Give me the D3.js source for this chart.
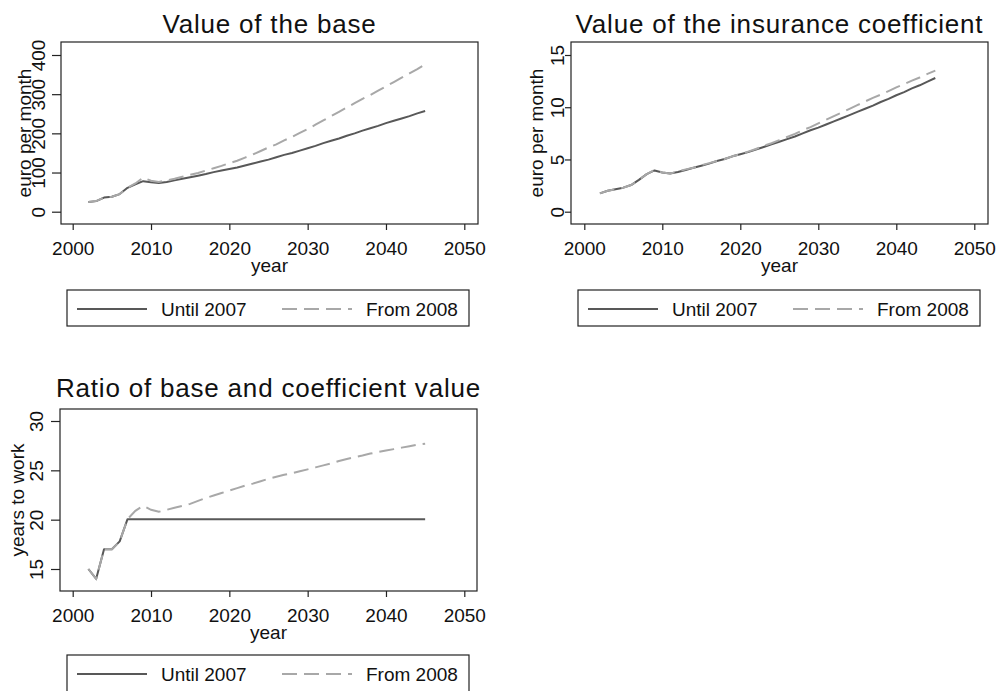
<!DOCTYPE html>
<html>
<head>
<meta charset="utf-8">
<script src="https://cdn.jsdelivr.net/npm/d3@7"></script>
<style>
  html, body { margin: 0; padding: 0; background: #fff; }
  svg { display: block; font-family: "Liberation Sans", Arial, Helvetica, sans-serif; }
</style>
</head>
<body>
<svg id="chart" width="998" height="691"></svg>
<script>
// Projection years
const years = [2002, 2003, 2004, 2005, 2006, 2007, 2008, 2009, 2010, 2011,
  2012, 2013, 2014, 2015, 2016, 2017, 2018, 2019, 2020, 2021,
  2022, 2023, 2024, 2025, 2026, 2027, 2028, 2029, 2030, 2031,
  2032, 2033, 2034, 2035, 2036, 2037, 2038, 2039, 2040, 2041,
  2042, 2043, 2044, 2045];

// Value of the base (euro per month)
const baseUntil2007 = [25, 27, 36, 38, 45, 61, 70, 78, 75, 73,
  76, 80, 84, 88, 92, 96, 101, 105, 109, 113,
  118, 123, 128, 133, 139, 145, 150, 156, 162, 168,
  175, 181, 187, 194, 200, 207, 213, 219, 226, 232,
  238, 244, 251, 257];
const baseFrom2008 = [25, 27, 36, 38, 45, 61, 72, 87, 79, 76,
  80, 84, 89, 94, 99, 105, 111, 117, 124, 130,
  138, 146, 155, 164, 172, 182, 191, 201, 211, 222,
  233, 244, 255, 266, 277, 288, 298, 309, 320, 331,
  342, 353, 364, 376];

// Value of the insurance coefficient (euro per month)
const coefUntil2007 = [1.75, 2.0, 2.15, 2.3, 2.55, 3.05, 3.6, 3.95, 3.75, 3.65,
  3.8, 4.0, 4.2, 4.4, 4.6, 4.85, 5.05, 5.3, 5.5, 5.7,
  5.95, 6.2, 6.45, 6.7, 6.95, 7.2, 7.5, 7.8, 8.05, 8.35,
  8.65, 8.95, 9.25, 9.55, 9.85, 10.15, 10.5, 10.8, 11.15, 11.45,
  11.8, 12.1, 12.45, 12.8];
const coefFrom2008 = [1.75, 2.0, 2.15, 2.3, 2.55, 3.05, 3.6, 4.0, 3.75, 3.65,
  3.85, 4.05, 4.2, 4.45, 4.65, 4.85, 5.05, 5.3, 5.5, 5.75,
  6.0, 6.3, 6.55, 6.85, 7.15, 7.45, 7.8, 8.1, 8.45, 8.8,
  9.15, 9.5, 9.85, 10.2, 10.55, 10.9, 11.2, 11.55, 11.9, 12.2,
  12.55, 12.85, 13.2, 13.5];

// Ratio of base and coefficient (years to work)
const ratioUntil2007 = [15, 14, 17, 17, 17.8, 20.05, 20.05, 20.05, 20.05, 20.05,
  20.05, 20.05, 20.05, 20.05, 20.05, 20.05, 20.05, 20.05, 20.05, 20.05,
  20.05, 20.05, 20.05, 20.05, 20.05, 20.05, 20.05, 20.05, 20.05, 20.05,
  20.05, 20.05, 20.05, 20.05, 20.05, 20.05, 20.05, 20.05, 20.05, 20.05,
  20.05, 20.05, 20.05, 20.05];
const ratioFrom2008 = [15, 14, 17, 17, 17.8, 20.05, 20.9, 21.4, 21.0, 20.8,
  21.0, 21.2, 21.4, 21.6, 21.9, 22.2, 22.45, 22.7, 22.95, 23.2,
  23.45, 23.65, 23.9, 24.15, 24.35, 24.55, 24.7, 24.9, 25.1, 25.3,
  25.5, 25.7, 25.95, 26.15, 26.35, 26.5, 26.7, 26.85, 27.0, 27.15,
  27.3, 27.45, 27.6, 27.7];

// Axis ticks and labels
const yearTicks = [2000, 2010, 2020, 2030, 2040, 2050];
const baseTicks = [0, 100, 200, 300, 400];
const coefTicks = [0, 5, 10, 15];
const ratioTicks = [15, 20, 25, 30];
const seriesNames = ["Until 2007", "From 2008"];

const SOLID = "#585858";
const DASHED = "#a8a8a8";
const INK = "#111";

const svg = d3.select("#chart");

const panels = [
  {
    title: "Value of the base", yTitle: "euro per month",
    until: baseUntil2007, from: baseFrom2008, yTicks: baseTicks,
    box: { l: 61, t: 42, r: 478, b: 224 },
    xRange: [72.7, 464.3], yRange: [211.7, 55],
    titleY: 33, yLabelOff: 16, yTick: 9, yTitleX: 31,
    legend: { x: 67, y: 290, h: 36 }
  },
  {
    title: "Value of the insurance coefficient", yTitle: "euro per month",
    until: coefUntil2007, from: coefFrom2008, yTicks: coefTicks,
    box: { l: 571, t: 42, r: 988, b: 224 },
    xRange: [584.3, 974.3], yRange: [211.7, 55],
    titleY: 33, yLabelOff: 7, yTick: 6, yTitleX: 543,
    legend: { x: 578, y: 290, h: 36 }
  },
  {
    title: "Ratio of base and coefficient value", yTitle: "years to work",
    until: ratioUntil2007, from: ratioFrom2008, yTicks: ratioTicks,
    box: { l: 60, t: 409, r: 477, b: 591 },
    xRange: [72.7, 464.3], yRange: [569, 421],
    titleY: 397, yLabelOff: 17, yTick: 9, yTitleX: 24,
    legend: { x: 67, y: 655, h: 40 }
  }
];

panels.forEach(p => {
  const g = svg.append("g");
  const x = d3.scaleLinear().domain([2000, 2050]).range(p.xRange);
  const ext = [p.yTicks[0], p.yTicks[p.yTicks.length - 1]];
  const y = d3.scaleLinear().domain(ext).range(p.yRange);
  const cx = (p.box.l + p.box.r) / 2;

  // title
  g.append("text")
    .attr("x", cx).attr("y", p.titleY)
    .attr("text-anchor", "middle")
    .attr("font-size", 26).attr("letter-spacing", 0.8)
    .attr("fill", INK)
    .text(p.title);

  // x axis
  const xa = g.append("g")
    .attr("transform", `translate(0,${p.box.b})`)
    .call(d3.axisBottom(x).tickValues(yearTicks).tickFormat(d3.format("d"))
      .tickSize(6).tickSizeOuter(0).tickPadding(10));
  xa.select(".domain").remove();
  xa.selectAll(".tick line").attr("stroke", "#222").attr("stroke-width", 1.2);
  xa.selectAll(".tick text").attr("font-size", 19).attr("fill", INK)
    .attr("font-family", "Liberation Sans, Arial, sans-serif")
    .attr("dy", 0).attr("y", 31);

  g.append("text")
    .attr("x", cx).attr("y", p.box.b + 48)
    .attr("text-anchor", "middle").attr("font-size", 19).attr("fill", INK)
    .text("year");

  // y axis with rotated tick labels
  const ya = g.append("g")
    .attr("transform", `translate(${p.box.l},0)`)
    .call(d3.axisLeft(y).tickValues(p.yTicks).tickSize(p.yTick).tickSizeOuter(0));
  ya.select(".domain").remove();
  ya.selectAll(".tick line").attr("stroke", "#222").attr("stroke-width", 1.2);
  ya.selectAll(".tick text")
    .attr("font-size", 19).attr("fill", INK)
    .attr("font-family", "Liberation Sans, Arial, sans-serif")
    .attr("transform", "rotate(-90)")
    .attr("text-anchor", "middle")
    .attr("x", 0).attr("dy", 0)
    .attr("y", -p.yLabelOff);

  g.append("text")
    .attr("transform", `translate(${p.yTitleX},${(p.box.t + p.box.b) / 2}) rotate(-90)`)
    .attr("text-anchor", "middle").attr("font-size", 19).attr("fill", INK)
    .text(p.yTitle);

  // series lines
  const line = vals => d3.line()
    .x((d, i) => x(years[i]))
    .y(d => y(d))(vals);

  g.append("path")
    .attr("d", line(p.until))
    .attr("fill", "none").attr("stroke", SOLID).attr("stroke-width", 2)
    .attr("stroke-linejoin", "round");
  g.append("path")
    .attr("d", line(p.from))
    .attr("fill", "none").attr("stroke", DASHED).attr("stroke-width", 2)
    .attr("stroke-dasharray", "15,7");

  // plot frame
  g.append("rect")
    .attr("x", p.box.l).attr("y", p.box.t)
    .attr("width", p.box.r - p.box.l).attr("height", p.box.b - p.box.t)
    .attr("fill", "none").attr("stroke", "#222").attr("stroke-width", 1.2);

  // legend
  const lg = g.append("g").attr("transform", `translate(${p.legend.x},${p.legend.y})`);
  lg.append("rect")
    .attr("width", 402).attr("height", p.legend.h)
    .attr("fill", "#fff").attr("stroke", "#222").attr("stroke-width", 1.2);
  const items = [
    { name: seriesNames[0], x0: 10, color: SOLID, dash: null },
    { name: seriesNames[1], x0: 215, color: DASHED, dash: "15,7" }
  ];
  items.forEach(it => {
    lg.append("line")
      .attr("x1", it.x0).attr("x2", it.x0 + 70)
      .attr("y1", 19).attr("y2", 19)
      .attr("stroke", it.color).attr("stroke-width", 2)
      .attr("stroke-dasharray", it.dash);
    lg.append("text")
      .attr("x", it.x0 + 84).attr("y", 26)
      .attr("font-size", 19).attr("fill", INK)
      .text(it.name);
  });
});
</script>
</body>
</html>
